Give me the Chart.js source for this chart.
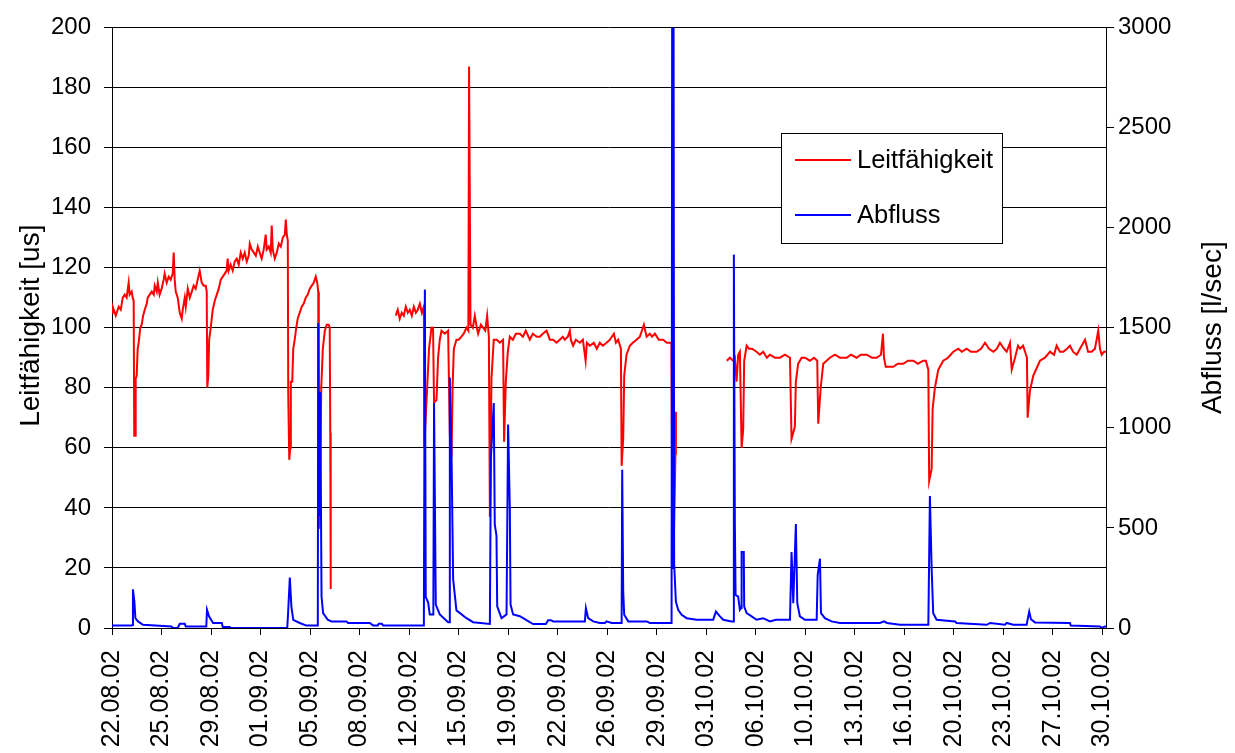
<!DOCTYPE html>
<html>
<head>
<meta charset="utf-8">
<title>Leitfähigkeit / Abfluss</title>
<script src="https://cdn.jsdelivr.net/npm/chart.js@4.4.1/dist/chart.umd.min.js"></script>
<style>
  html, body { margin: 0; padding: 0; background: #fff; }
</style>
</head>
<body>
<canvas id="chart" width="1235" height="753"></canvas>
<script>
// axis labels (one tick every 3.45 days starting 22.08.02)
const dateLabels = ['22.08.02', '25.08.02', '29.08.02', '01.09.02', '05.09.02', '08.09.02', '12.09.02',
  '15.09.02', '19.09.02', '22.09.02', '26.09.02', '29.09.02', '03.10.02', '06.10.02', '10.10.02',
  '13.10.02', '16.10.02', '20.10.02', '23.10.02', '27.10.02', '30.10.02'];
const tickStep = 3.45;
const lastDay = 69.26;

const leftTitle = 'Leitfähigkeit [us]';
const rightTitle = 'Abfluss [l/sec]';

// Leitfähigkeit: days since 22.08.02 and value [us]; null = no measurement
const leitDays = [
  0.00, 0.05, 0.26, 0.47, 0.61, 0.75, 0.89, 1.02, 1.16, 1.23,
  1.37, 1.44, 1.51, 1.55, 1.62, 1.65, 1.72, 1.79, 1.86, 1.97,
  2.07, 2.17, 2.28, 2.42, 2.49, 2.63, 2.77, 2.91, 2.98, 3.12,
  3.19, 3.32, 3.46, 3.60, 3.67, 3.81, 3.95, 4.09, 4.23, 4.30,
  4.37, 4.44, 4.58, 4.72, 4.86, 4.93, 5.07, 5.14, 5.28, 5.42,
  5.56, 5.69, 5.83, 5.97, 6.11, 6.25, 6.39, 6.53, 6.60, 6.64,
  6.71, 6.77, 6.88, 7.02, 7.16, 7.30, 7.44, 7.58, 7.72, 7.86,
  7.99, 8.06, 8.13, 8.27, 8.41, 8.55, 8.69, 8.83, 8.97, 9.11,
  9.25, 9.39, 9.53, 9.60, 9.74, 9.88, 10.02, 10.16, 10.29, 10.43,
  10.57, 10.71, 10.78, 10.92, 11.06, 11.13, 11.20, 11.34, 11.48, 11.62,
  11.76, 11.90, 12.04, 12.11, 12.18, 12.25, 12.28, 12.35, 12.42, 12.46,
  12.56, 12.63, 12.73, 12.84, 12.94, 13.08, 13.22, 13.36, 13.50, 13.64,
  13.78, 13.92, 14.06, 14.20, 14.30, 14.37, 14.41, 14.48, 14.58, 14.69,
  14.83, 14.96, 15.10, 15.17, 15.21, 15.24, 15.30,
  19.77, 19.91, 20.05, 20.19, 20.33, 20.47, 20.61, 20.75, 20.89, 21.03,
  21.17, 21.31, 21.45, 21.59, 21.73, 21.76, 22.09, 22.26, 22.37, 22.44,
  22.61, 22.72, 22.84, 22.96, 23.19, 23.42, 23.54, 23.66, 23.73, 23.82,
  24.00, 24.16, 24.35, 24.51, 24.70, 24.83, 24.88, 24.98, 25.14, 25.28,
  25.42, 25.51, 25.70, 25.86, 26.01, 26.14, 26.26, 26.33, 26.44, 26.60,
  26.81, 27.02, 27.25, 27.32, 27.44, 27.58, 27.72, 27.93, 28.14, 28.42,
  28.63, 28.83, 29.11, 29.32, 29.60, 29.81, 30.02, 30.28, 30.51, 30.74,
  30.97, 31.20, 31.41, 31.55, 31.76, 31.90, 31.97, 32.13, 32.32, 32.60,
  32.81, 33.00, 33.09, 33.30, 33.57, 33.78, 33.99, 34.20, 34.46, 34.69,
  34.97, 35.11, 35.27, 35.46, 35.51, 35.62, 35.69, 35.85, 36.08, 36.29,
  36.55, 36.78, 37.06, 37.25, 37.48, 37.62, 37.83, 38.10, 38.40, 38.66,
  38.87, 38.98, 39.05, 39.12, 39.26, 39.29, 39.35,
  42.84, 43.05, 43.28, 43.40, 43.52, 43.63, 43.75, 43.87, 43.98, 44.05,
  44.22, 44.38, 44.59, 44.91, 45.14, 45.37, 45.63, 45.84, 46.19, 46.54,
  46.89, 47.24, 47.35, 47.58, 47.65, 47.81, 48.05, 48.28, 48.63, 48.91,
  49.14, 49.21, 49.38, 49.56, 49.79, 50.02, 50.37, 50.72, 51.19, 51.49,
  51.88, 52.18, 52.58, 52.95, 53.28, 53.58, 53.72, 53.79, 53.91, 54.21,
  54.43, 54.76, 55.13, 55.46, 55.83, 56.16, 56.53, 56.71, 56.88, 56.94,
  57.11, 57.18, 57.34, 57.57, 57.92, 58.25, 58.62, 58.97, 59.22, 59.55,
  59.85, 60.25, 60.55, 60.83, 61.11, 61.41, 61.66, 61.87, 62.15, 62.34,
  62.57, 62.69, 62.92, 63.13, 63.27, 63.48, 63.62, 63.75, 63.80, 63.96,
  64.19, 64.38, 64.66, 65.01, 65.36, 65.64, 65.82, 66.05, 66.29, 66.54,
  66.75, 66.96, 67.22, 67.45, 67.80, 68.01, 68.26, 68.49, 68.72, 68.84,
  68.96, 69.12, 69.26
];
const leitVals = [
  105, 107, 104, 107, 106, 110, 111, 110, 115, 111,
  112, 110, 109, 64, 64, 83, 84, 93, 95, 100,
  101, 104, 106, 108, 110, 111, 112, 111, 114, 112,
  115, 111, 113, 116, 118, 115, 117, 116, 118, 125,
  116, 112, 110, 105, 103, 106, 110, 107, 113, 110,
  112, 114, 113, 116, 119, 115, 114, 114, 112, 80,
  84, 96, 100, 106, 109, 111, 113, 116, 117, 118,
  119, 123, 119, 121, 119, 122, 123, 121, 125, 123,
  125, 122, 124, 128, 126, 125, 124, 127, 125, 123,
  126, 131, 126, 127, 125, 134, 126, 123, 125, 128,
  127, 130, 131, 136, 131, 129, 78, 56, 60, 82,
  82, 93, 96, 100, 103, 105, 107, 108, 110, 111,
  113, 114, 115, 117, 115, 112, 33, 38, 80, 93,
  99, 101, 101, 100, 65, 13, null,
  104, 106, 103, 105, 104, 107, 105, 106, 104, 107,
  105, 106, 108, 105, 107, 60, 93, 100, 100, 75,
  76, 90, 96, 99, 98, 99, 64, 57, 80, 93,
  96, 96, 97, 98, 100, 99, 187, 101, 100, 104,
  100, 98, 101, 100, 99, 104, 97, 37, 83, 96,
  96, 95, 96, 62, 82, 92, 97, 96, 98, 98,
  97, 99, 96, 98, 97, 97, 98, 99, 96, 96,
  95, 96, 97, 96, 97, 99, 96, 94, 96, 95,
  96, 89, 95, 94, 95, 93, 95, 94, 95, 96,
  98, 95, 96, 93, 54, 63, 84, 91, 94, 95,
  96, 97, 101, 97, 98, 97, 98, 96, 96, 95,
  95, 95, 20, 22, 58, 72, null,
  89, 90, 89, 90, 82, 91, 92, 60, 66, 89,
  94, 93, 93, 92, 91, 92, 90, 91, 90, 90,
  91, 90, 63, 67, 82, 88, 90, 90, 89, 90,
  89, 68, 80, 88, 89, 90, 91, 90, 90, 91,
  90, 91, 91, 90, 90, 91, 98, 90, 87, 87,
  87, 88, 88, 89, 89, 88, 89, 89, 86, 49,
  53, 73, 80, 86, 89, 90, 92, 93, 92, 93,
  92, 92, 93, 95, 93, 92, 93, 95, 93, 92,
  95, 86, 90, 94, 93, 94, 92, 90, 70, 79,
  84, 86, 89, 90, 92, 91, 94, 92, 92, 93,
  94, 92, 91, 93, 96, 92, 92, 93, 99, 93,
  91, 92, 92
];

// Abfluss: days since 22.08.02 and value [l/sec]
const abflussDays = [
  0.00, 1.35, 1.44, 1.46, 1.56, 1.63, 1.81, 2.16, 4.14, 4.25,
  4.58, 4.72, 5.07, 5.14, 6.57, 6.62, 6.76, 7.04, 7.65, 7.72,
  8.20, 8.27, 12.21, 12.27, 12.39, 12.50, 12.63, 13.08, 13.55, 14.34,
  14.37, 14.43, 14.51, 14.60, 14.71, 15.03, 15.29, 16.34, 16.45, 17.96,
  18.19, 18.52, 18.59, 18.80, 18.89, 21.73, 21.80, 21.86, 22.03, 22.14,
  22.39, 22.44, 22.56, 22.84, 23.42, 23.50, 23.54, 23.66, 23.77, 24.00,
  24.70, 25.16, 26.33, 26.40, 26.60, 26.67, 26.79, 26.84, 27.14, 27.49,
  27.60, 27.72, 27.77, 27.95, 28.42, 28.88, 29.34, 30.23, 30.39, 30.58,
  30.74, 32.95, 33.02, 33.18, 33.53, 33.99, 34.34, 34.46, 34.81, 35.51,
  35.55, 35.62, 35.69, 35.97, 37.25, 37.48, 38.99, 39.03, 39.10, 39.13,
  39.17, 39.29, 39.45, 39.69, 40.04, 40.73, 41.89, 42.08, 42.36, 42.59,
  43.17, 43.30, 43.33, 43.40, 43.45, 43.63, 43.75, 43.84, 43.87, 44.02,
  44.05, 44.22, 44.57, 44.91, 45.37, 45.84, 46.26, 47.24, 47.35, 47.47,
  47.65, 47.75, 47.93, 48.28, 49.10, 49.17, 49.33, 49.40, 49.67, 50.14,
  50.72, 53.51, 53.79, 54.00, 54.90, 56.88, 56.99, 57.11, 57.22, 57.46,
  58.74, 58.85, 60.95, 61.18, 62.22, 62.34, 62.80, 63.73, 63.91, 64.03,
  64.31, 66.75, 66.80, 68.84, 68.96, 69.19, 69.26
];
const abflussVals = [
  12, 12, 15, 193, 132, 49, 33, 16, 8, 0,
  0, 21, 21, 8, 8, 91, 58, 25, 25, 5,
  5, 0, 0, 74, 252, 107, 41, 25, 12, 12,
  1524, 560, 1180, 157, 74, 41, 33, 33, 25, 25,
  13, 13, 21, 21, 13, 13, 1691, 156, 127, 68,
  68, 1124, 117, 68, 29, 29, 1251, 850, 244, 88,
  49, 29, 20, 850, 1124, 518, 460, 108, 49, 68,
  1017, 596, 117, 68, 59, 39, 20, 20, 39, 39,
  33, 33, 99, 49, 33, 25, 25, 33, 25, 25,
  791, 181, 66, 33, 33, 25, 25, 3000, 300, 3000,
  321, 132, 91, 66, 49, 41, 41, 82, 58, 41,
  33, 33, 1865, 519, 165, 157, 91, 100, 380, 380,
  107, 74, 58, 41, 49, 33, 41, 41, 379, 124,
  519, 124, 58, 41, 41, 264, 346, 74, 49, 33,
  25, 25, 33, 25, 16, 16, 659, 300, 74, 41,
  33, 25, 16, 25, 16, 25, 16, 16, 82, 44,
  28, 25, 12, 8, 0, 8, 8
];

const FONT = '"Liberation Sans", Arial, sans-serif';
Chart.defaults.font.family = FONT;
Chart.defaults.color = '#000';

// axis titles + legend box inside the plot, drawn like the original
const decorPlugin = {
  id: 'decor',
  afterDraw(chart) {
    const ctx = chart.ctx;
    const area = chart.chartArea;
    const midY = (area.top + area.bottom) / 2;
    ctx.save();
    ctx.fillStyle = '#000';
    ctx.font = '28px ' + FONT;
    ctx.textAlign = 'center';
    ctx.textBaseline = 'middle';

    ctx.save();
    ctx.translate(31, midY - 2);
    ctx.rotate(-Math.PI / 2);
    ctx.fillText(leftTitle, 0, 0);
    ctx.restore();

    ctx.save();
    ctx.translate(1213, midY);
    ctx.rotate(-Math.PI / 2);
    ctx.fillText(rightTitle, 0, 0);
    ctx.restore();

    // legend
    const bx = 781, by = 133, bw = 221, bh = 110;
    ctx.fillStyle = '#fff';
    ctx.fillRect(bx, by, bw, bh);
    ctx.strokeStyle = '#000';
    ctx.lineWidth = 1;
    ctx.strokeRect(bx + 0.5, by + 0.5, bw, bh);
    ctx.textAlign = 'left';
    ctx.font = '25.5px ' + FONT;
    chart.data.datasets.forEach((ds, i) => {
      const y = by + 27 + i * 55;
      ctx.strokeStyle = ds.borderColor;
      ctx.lineWidth = 2;
      ctx.beginPath();
      ctx.moveTo(bx + 14, y);
      ctx.lineTo(bx + 70, y);
      ctx.stroke();
      ctx.fillStyle = '#000';
      ctx.fillText(ds.label, bx + 76, y + 1);
    });
    ctx.restore();
  }
};

const tickFont = { family: FONT, size: 24 };

new Chart(document.getElementById('chart'), {
  type: 'line',
  data: {
    datasets: [
      {
        label: 'Leitfähigkeit',
        data: leitDays.map((d, i) => ({ x: d, y: leitVals[i] })),
        borderColor: '#ff0000',
        yAxisID: 'y',
        order: 2
      },
      {
        label: 'Abfluss',
        data: abflussDays.map((d, i) => ({ x: d, y: abflussVals[i] })),
        borderColor: '#0000ff',
        yAxisID: 'y1',
        order: 1
      }
    ]
  },
  options: {
    responsive: false,
    animation: false,
    devicePixelRatio: 1,
    layout: { padding: { top: 22, right: 0, bottom: 0, left: 0 } },
    elements: {
      point: { radius: 0 },
      line: { borderWidth: 2, tension: 0, fill: false }
    },
    plugins: {
      legend: { display: false },
      tooltip: { enabled: false }
    },
    scales: {
      x: {
        type: 'linear',
        position: 'bottom',
        min: 0,
        max: lastDay,
        afterBuildTicks: (scale) => {
          scale.ticks = dateLabels.map((_, i) => ({ value: i * tickStep }));
        },
        afterFit: (scale) => { scale.height = 125; },
        ticks: {
          autoSkip: false,
          minRotation: 90,
          maxRotation: 90,
          padding: 15,
          font: { family: FONT, size: 25 },
          callback: (value, index) => dateLabels[index]
        },
        grid: { drawOnChartArea: false, drawTicks: true, tickLength: 7, color: '#000' },
        border: { display: true, color: '#000', width: 1 }
      },
      y: {
        position: 'left',
        min: 0,
        max: 200,
        afterFit: (scale) => { scale.width = 112; },
        ticks: { stepSize: 20, padding: 13, font: tickFont, callback: (v) => String(v) },
        grid: { color: '#000', tickLength: 8, lineWidth: 1 },
        border: { display: true, color: '#000', width: 1 }
      },
      y1: {
        position: 'right',
        min: 0,
        max: 3000,
        afterFit: (scale) => { scale.width = 129; },
        ticks: { stepSize: 500, padding: 4, font: tickFont, callback: (v) => String(v) },
        grid: { drawOnChartArea: false, tickLength: 8, color: '#000' },
        border: { display: true, color: '#000', width: 1 }
      }
    }
  },
  plugins: [decorPlugin]
});
</script>
</body>
</html>
